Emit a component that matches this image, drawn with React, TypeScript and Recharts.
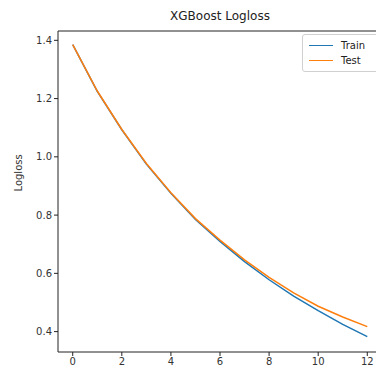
import {
  LineChart,
  Line,
  XAxis,
  YAxis,
  ReferenceLine,
} from 'recharts';

const rounds = [0, 1, 2, 3, 4, 5, 6, 7, 8, 9, 10, 11, 12];
const trainLoss = [1.385, 1.225, 1.093, 0.975, 0.875, 0.785, 0.71, 0.64, 0.578, 0.522, 0.472, 0.425, 0.383];
const testLoss = [1.385, 1.226, 1.094, 0.977, 0.877, 0.788, 0.714, 0.646, 0.586, 0.533, 0.487, 0.45, 0.417];
const xTicks = [0, 2, 4, 6, 8, 10, 12];
const yTicks = [0.4, 0.6, 0.8, 1.0, 1.2, 1.4];

const data = rounds.map((r, i) => ({ round: r, train: trainLoss[i], test: testLoss[i] }));

const FONT = '"DejaVu Sans", sans-serif';
const Y_TOP = 1.432;

const series = [
  { key: 'train', name: 'Train', color: '#1f77b4' },
  { key: 'test', name: 'Test', color: '#ff7f0e' },
];

function LegendBox() {
  return (
    <div
      style={{
        position: 'absolute',
        left: 302,
        top: 34,
        width: 90,
        border: '1px solid #d0d0d0',
        borderRadius: 3,
        background: 'rgba(255,255,255,0.8)',
        padding: '3px 6px',
        fontFamily: FONT,
        fontSize: 10,
        color: '#222',
      }}
    >
      {series.map((it) => (
        <div key={it.name} style={{ display: 'flex', alignItems: 'center', height: 15 }}>
          <span style={{ display: 'inline-block', width: 24, height: 0, borderTop: `1.5px solid ${it.color}`, marginRight: 8 }} />
          <span>{it.name}</span>
        </div>
      ))}
    </div>
  );
}

export default function App() {
  return (
    <div style={{ position: 'absolute', left: 0, top: 0, width: 376, height: 374, overflow: 'hidden', background: '#fff' }}>
      <div
        style={{
          position: 'absolute',
          left: 120,
          width: 200,
          top: 9,
          textAlign: 'center',
          fontFamily: FONT,
          fontSize: 12,
          color: '#222',
        }}
      >
        XGBoost Logloss
      </div>
      <LineChart width={390} height={374} data={data} margin={{ top: 31, right: 8, bottom: 0, left: 0 }}>
        <XAxis
          dataKey="round"
          type="number"
          domain={[-0.6, 12.6]}
          ticks={xTicks}
          allowDataOverflow
          height={22}
          tickSize={4}
          stroke="#222"
          tick={{ fontSize: 10, fontFamily: FONT, fill: '#333' }}
        />
        <YAxis
          type="number"
          domain={[0.33, Y_TOP]}
          ticks={yTicks}
          allowDataOverflow
          width={58}
          tickSize={4}
          stroke="#222"
          tickFormatter={(v: number) => v.toFixed(1)}
          tick={{ fontSize: 10, fontFamily: FONT, fill: '#333' }}
          label={{ value: 'Logloss', angle: -90, position: 'insideLeft', offset: 18, style: { fontSize: 10, fontFamily: FONT, fill: '#333' } }}
        />
        <ReferenceLine y={Y_TOP} stroke="#222" />
        {series.map((s) => (
          <Line
            key={s.key}
            dataKey={s.key}
            name={s.name}
            stroke={s.color}
            strokeWidth={1.5}
            dot={false}
            isAnimationActive={false}
          />
        ))}
      </LineChart>
      <LegendBox />
    </div>
  );
}
